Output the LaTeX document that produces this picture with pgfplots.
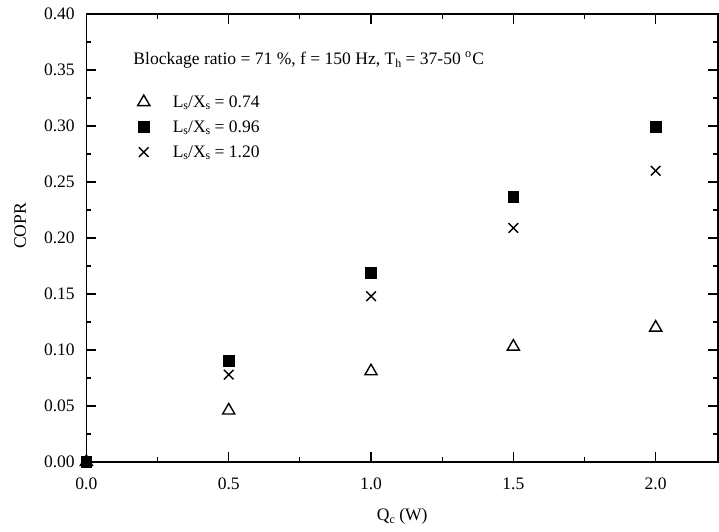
\documentclass[border=0pt]{standalone}
\usepackage{fontspec}
\setmainfont{Liberation Serif}
\usepackage{pgfplots}
\usepackage{pgfplotstable}
\pgfplotsset{compat=1.18}

% lowered, small subscript as in the original figure
\newcommand\sub[1]{\raisebox{-0.35ex}{\fontsize{6}{6}\selectfont #1}}

% one table per L_s/X_s ratio
\pgfplotstableread{
x y
0.0 0.000
0.5 0.046
1.0 0.081
1.5 0.103
2.0 0.120
}\ratioA
\pgfplotstableread{
x y
0.0 0.000
0.5 0.090
1.0 0.169
1.5 0.237
2.0 0.299
}\ratioB
\pgfplotstableread{
x y
0.0 0.000
0.5 0.078
1.0 0.148
1.5 0.209
2.0 0.260
}\ratioC

\pgfplotsset{mkleg/.style={legend image code/.code={%
  \path (-4bp,0bp) (12.3bp,0bp);
  \draw[##1] plot coordinates {(0bp,0.5bp)};}}}

\begin{document}
\begin{tikzpicture}[font=\fontsize{8.8}{10.5}\selectfont]
\begin{axis}[
    name=ax,
    scale only axis,
    width=315.8bp, height=224bp,
    xmin=0, xmax=2.219,
    ymin=0, ymax=0.4,
    xtick={0,0.5,1,1.5,2},
    ytick={0,0.05,0.1,0.15,0.2,0.25,0.3,0.35,0.4},
    minor x tick num=1,
    minor y tick num=1,
    tick align=inside,
    major tick length=5bp,
    minor tick length=2.5bp,
    axis line style={line width=0.75bp},
    every tick/.style={black, line width=0.6bp},
    /pgf/number format/assume math mode=true,
    xticklabel style={/pgf/number format/.cd, fixed, fixed zerofill, precision=1, /tikz/.cd, yshift=-4.6bp},
    yticklabel style={/pgf/number format/.cd, fixed, fixed zerofill, precision=2, /tikz/.cd, xshift=-2.3bp},
    xlabel={Q\sub{c} (W)},
    ylabel={COPR},
    xlabel style={at={(axis description cs:0.5,-0.122)}, anchor=center},
    ylabel style={at={(axis description cs:-0.105,0.527)}, anchor=center},
    clip=false,
    legend cell align=left,
    legend style={at={(axis description cs:0.0769,0.83)}, anchor=north west,
        draw=none, fill=none, inner sep=0pt, row sep=0pt,
        nodes={inner xsep=2bp, inner ysep=1.75bp, text height=6.5bp, text depth=2.5bp}},
]
\addplot[only marks, mark=triangle, mark size=3.5bp, mark options={line width=0.7bp, black}, mkleg] table {\ratioA};
\addlegendentry{L\sub{s}/X\sub{s} = 0.74}
\addplot[only marks, mark=square*, mark size=2.7bp, mark options={black, fill=black}, mkleg] table {\ratioB};
\addlegendentry{L\sub{s}/X\sub{s} = 0.96}
\addplot[only marks, mark=x, mark size=3.4bp, mark options={line width=0.7bp, black}, mkleg] table {\ratioC};
\addlegendentry{L\sub{s}/X\sub{s} = 1.20}
\node[anchor=base west, inner sep=0pt] at (axis cs:0.164,0.3545)
    {Blockage ratio = 71 \%, f = 150 Hz, T\sub{h} = 37-50 \textsuperscript{o}C};
\end{axis}
\path[use as bounding box] ([xshift=-43.2bp,yshift=-34.5bp]ax.south west)
    rectangle ([xshift=0.5bp,yshift=7bp]ax.north east);
\end{tikzpicture}
\end{document}
